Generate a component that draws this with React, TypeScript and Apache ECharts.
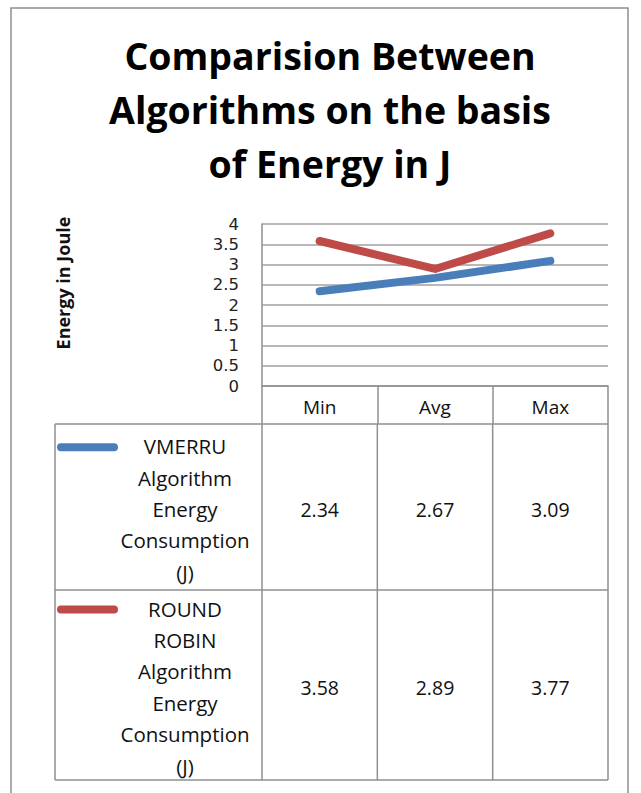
import React, { useEffect, useRef } from "react";
import * as echarts from "echarts";

const categories = ["Min", "Avg", "Max"];
const vmerruValues = [2.34, 2.67, 3.09];
const roundRobinValues = [3.58, 2.89, 3.77];
const seriesNames = ["VMERRU Algorithm Energy Consumption (J)", "ROUND ROBIN Algorithm Energy Consumption (J)"];
const legendLines = [
  ["VMERRU", "Algorithm", "Energy", "Consumption", "(J)"],
  ["ROUND", "ROBIN", "Algorithm", "Energy", "Consumption", "(J)"],
];
const yTicks = [0, 0.5, 1, 1.5, 2, 2.5, 3, 3.5, 4];
const colors = ["#4A7EBB", "#BE4B48"];

const FONT = "'Open Sans', Lato, sans-serif";

export default function App() {
  const ref = useRef<HTMLDivElement>(null);
  useEffect(() => {
    const chart = echarts.init(ref.current!, null, { renderer: "svg" });
    const W = 641;
    const gridLeft = 262;
    const gridRight = 608;
    const gridTop = 224;
    const gridBottom = 386;
    const headerBottom = 424;
    const rowBottoms = [590, 780];
    const tableLeft = 55;
    const colW = (gridRight - gridLeft) / categories.length;
    const lineColor = "#8f8f8f";

    const graphics: any[] = [];
    graphics.push({
      type: "rect",
      shape: { x: 11, y: 8, width: 617, height: 800 },
      style: { fill: "none", stroke: lineColor, lineWidth: 1.5 },
      silent: true,
    });
    graphics.push({
      type: "text",
      x: 63,
      y: 283,
      rotation: Math.PI / 2,
      style: {
        text: "Energy in Joule",
        font: `bold 18px ${FONT}`,
        fill: "#111",
        align: "center",
        verticalAlign: "middle",
      },
    });
    const hLines = [headerBottom, ...rowBottoms];
    hLines.forEach((y) => {
      graphics.push({
        type: "line",
        shape: { x1: tableLeft, y1: y, x2: gridRight, y2: y },
        style: { stroke: lineColor, lineWidth: 1.5 },
      });
    });
    graphics.push({
      type: "line",
      shape: { x1: tableLeft, y1: headerBottom, x2: tableLeft, y2: rowBottoms[1] },
      style: { stroke: lineColor, lineWidth: 1.5 },
    });
    for (let i = 0; i <= categories.length; i++) {
      const x = gridLeft + i * colW;
      graphics.push({
        type: "line",
        shape: { x1: x, y1: headerBottom, x2: x, y2: rowBottoms[1] },
        style: { stroke: lineColor, lineWidth: 1.5 },
      });
    }
    const allValues = [vmerruValues, roundRobinValues];
    const rowTops = [headerBottom, rowBottoms[0]];
    allValues.forEach((vals, r) => {
      const top = rowTops[r];
      const bottom = rowBottoms[r];
      const mid = (top + bottom) / 2 + 2;
      const lines = legendLines[r];
      const lh = 31.4;
      const startY = mid - ((lines.length - 1) * lh) / 2;
      lines.forEach((t, k) => {
        graphics.push({
          type: "text",
          x: 185,
          y: startY + k * lh,
          style: {
            text: t,
            font: `20.5px ${FONT}`,
            fill: "#111",
            align: "center",
            verticalAlign: "middle",
          },
        });
      });
      graphics.push({
        type: "line",
        shape: { x1: 61, y1: startY + 1, x2: 114, y2: startY + 1 },
        style: { stroke: colors[r], lineWidth: 8, lineCap: "round" },
      });
      vals.forEach((v, i) => {
        graphics.push({
          type: "text",
          x: gridLeft + (i + 0.5) * colW,
          y: mid,
          style: {
            text: v.toFixed(2),
            font: `19.5px ${FONT}`,
            fill: "#111",
            align: "center",
            verticalAlign: "middle",
          },
        });
      });
    });

    chart.setOption({
      animation: false,
      backgroundColor: "#fff",
      title: {
        text: "Comparision Between\nAlgorithms on the basis\nof Energy in J",
        left: 325,
        top: 23,
        textAlign: "center",
        textStyle: {
          fontFamily: FONT,
          fontWeight: "bold",
          fontSize: 37.5,
          lineHeight: 54,
          color: "#000",
        },
      },
      grid: {
        left: gridLeft,
        right: W - gridRight,
        top: gridTop,
        bottom: 793 - gridBottom,
        containLabel: false,
      },
      xAxis: {
        type: "category",
        data: categories,
        boundaryGap: true,
        axisLine: { show: true, lineStyle: { color: lineColor, width: 1.5 } },
        axisTick: { show: true, length: headerBottom - gridBottom, lineStyle: { color: lineColor, width: 1.5 } },
        axisLabel: { margin: 11, fontFamily: FONT, fontSize: 19, color: "#111" },
        splitLine: { show: false },
      },
      yAxis: {
        type: "value",
        min: 0,
        max: 4,
        interval: 0.5,
        axisLine: { show: true, lineStyle: { color: lineColor, width: 1.5 } },
        axisTick: { show: false },
        axisLabel: {
          margin: 23,
          fontFamily: "'DejaVu Sans', sans-serif",
          fontSize: 16.5,
          lineHeight: 17,
          color: "#222",
          formatter: (v: number) => (yTicks.includes(v) ? String(v) : ""),
        },
        splitLine: { show: true, lineStyle: { color: "#a0a0a0", width: 1.5 } },
      },
      series: [
        {
          name: seriesNames[0],
          type: "line",
          data: vmerruValues,
          showSymbol: false,
          lineStyle: { color: colors[0], width: 8, cap: "round", join: "round" },
          itemStyle: { color: colors[0] },
          z: 3,
        },
        {
          name: seriesNames[1],
          type: "line",
          data: roundRobinValues,
          showSymbol: false,
          lineStyle: { color: colors[1], width: 8, cap: "round", join: "round" },
          itemStyle: { color: colors[1] },
          z: 2,
        },
      ],
      graphic: graphics,
    });
    return () => chart.dispose();
  }, []);
  return (
    <div
      ref={ref}
      style={{ position: "fixed", left: 0, top: 0, width: 641, height: 793, background: "#fff" }}
    />
  );
}
